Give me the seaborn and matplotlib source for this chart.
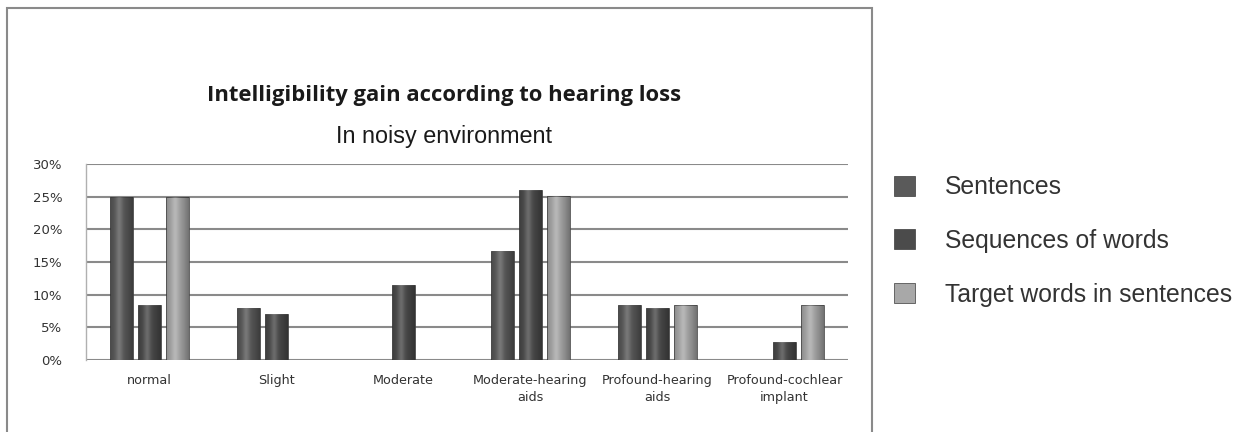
import numpy as np
import pandas as pd
import matplotlib
matplotlib.use("Agg")
import matplotlib.pyplot as plt
from matplotlib.patches import Rectangle, Patch
import seaborn as sns

categories = ["normal", "Slight", "Moderate", "Moderate-hearing\naids",
              "Profound-hearing\naids", "Profound-cochlear\nimplant"]
series_names = ["Sentences", "Sequences of words", "Target words in sentences"]
sentences = [25.0, 7.9, np.nan, 16.7, 8.4, np.nan]
sequences = [8.4, 7.1, 11.5, 26.0, 8.0, 2.8]
target_words = [25.0, np.nan, np.nan, 25.1, 8.4, 8.4]
y_ticks = [0, 5, 10, 15, 20, 25, 30]
y_tick_labels = ["0%", "5%", "10%", "15%", "20%", "25%", "30%"]

colors = ["#5a5a5a", "#4b4b4b", "#a8a8a8"]

rows = []
for name, vals in zip(series_names, [sentences, sequences, target_words]):
    for c, v in zip(categories, vals):
        rows.append({"category": c, "series": name, "value": v})
df = pd.DataFrame(rows)

sns.set_theme(style="white")
fig = plt.figure(figsize=(12.51, 4.32), dpi=100)
ax = fig.add_axes([86/1251, 72/432, (848-86)/1251, (360-164)/432])

sns.barplot(data=df, x="category", y="value", hue="series",
            hue_order=series_names, order=categories, palette=colors,
            width=0.66, gap=0.18, ax=ax, legend=False,
            edgecolor="#3a3a3a", linewidth=0.5, zorder=3)

# cylinder-like shading on each bar
xs = np.linspace(0, 1, 64)
shade = np.zeros((1, 64, 4))
dark = np.clip(np.abs(xs - 0.4) * 1.6, 0, 1) ** 1.5 * 0.35
light = np.exp(-((xs - 0.4) / 0.15) ** 2) * 0.18
shade[0, :, 0:3] = (light / (light + dark + 1e-9))[:, None]
shade[0, :, 3] = dark + light
for p in list(ax.patches):
    h = p.get_height()
    if not np.isfinite(h) or h <= 0:
        continue
    x0, w = p.get_x(), p.get_width()
    im = ax.imshow(shade, extent=(x0, x0 + w, 0, h), aspect="auto",
                   interpolation="bilinear", zorder=4)
    im.set_clip_path(p)

ax.set_ylim(0, 30)
ax.set_xlim(-0.5, len(categories) - 0.5)
ax.set_yticks(y_ticks)
ax.set_yticklabels(y_tick_labels, fontsize=9.5, color="#333333", family="DejaVu Sans")
ax.tick_params(axis="y", length=0, pad=17)
ax.tick_params(axis="x", length=0, pad=10)
ax.set_xticks(range(len(categories)))
ax.set_xticklabels(categories, fontsize=9.2, color="#333333", family="DejaVu Sans",
                   linespacing=1.45)
ax.set_xlabel("")
ax.set_ylabel("")
for y in y_ticks:
    ax.axhline(y, color="#8a8a8a", lw=1.5, zorder=1)
for s in ["top", "right", "bottom"]:
    ax.spines[s].set_visible(False)
ax.spines["left"].set_color("#b0b0b0")
ax.spines["left"].set_linewidth(1.0)

fig.text(444/1251, 1 - 96/432, "Intelligibility gain according to hearing loss",
         ha="center", va="center", fontsize=15.8, fontweight="bold",
         family="Open Sans", color="#1a1a1a")
fig.text(444/1251, 1 - 136/432, "In noisy environment", ha="center", va="center",
         fontsize=16.8, family="Liberation Sans", color="#1a1a1a")

fig.patches.append(Rectangle((7/1251, -0.05), (872-7)/1251, 1.05 - 8/432,
                             transform=fig.transFigure, fill=False,
                             edgecolor="#8a8a8a", lw=1.5))

handles = [Patch(facecolor=c, edgecolor="#3a3a3a", lw=0.5) for c in colors]
leg = fig.legend(handles, series_names, loc="upper left",
                 bbox_to_anchor=(872/1251, 1 - 153/432), frameon=False,
                 prop={"family": "Liberation Sans", "size": 17.8},
                 labelspacing=1.2, handlelength=0.85, handleheight=0.85,
                 handletextpad=1.2, labelcolor="#333333")

fig.savefig("out.png", dpi=100)
